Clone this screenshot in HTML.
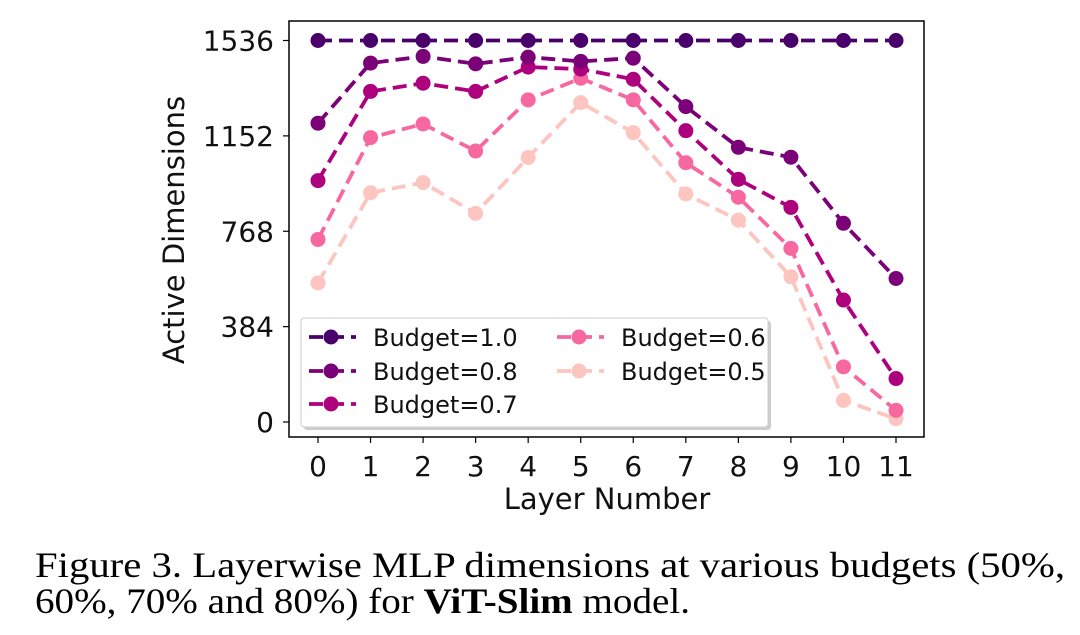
<!DOCTYPE html>
<html><head><meta charset="utf-8"><style>
html,body{margin:0;padding:0;background:#fff;}
svg{display:block;}
.cap{font-family:"Liberation Serif","Times New Roman",Times,serif;}
</style></head><body>
<svg id="chart" width="1080" height="635" viewBox="0 0 1080 635" xmlns="http://www.w3.org/2000/svg">
<rect x="0" y="0" width="1080" height="635" fill="#fff"/>
<g id="plot"></g>
<rect x="289" y="21" width="635" height="416" fill="none" stroke="#000" stroke-width="1.5"/>
<text x="184" y="230" transform="rotate(-90 184 230)" text-anchor="middle" font-family="'DejaVu Sans', sans-serif" font-size="29" fill="#111">Active Dimensions</text>
<text x="607" y="509" text-anchor="middle" font-family="'DejaVu Sans', sans-serif" font-size="29" fill="#111">Layer Number</text>
<text class="cap" x="35" y="577" font-size="36" fill="#000" textLength="1030" lengthAdjust="spacingAndGlyphs">Figure 3.  Layerwise MLP dimensions at various budgets (50%,</text>
<text class="cap" x="35" y="613" font-size="36" fill="#000" textLength="655" lengthAdjust="spacingAndGlyphs">60%, 70% and 80%) for <tspan font-weight="bold">ViT-Slim</tspan> model.</text>
</svg>
<script>
const layers=[0,1,2,3,4,5,6,7,8,9,10,11];
const yTicks=[0,384,768,1152,1536];
const seriesNames=["Budget=1.0","Budget=0.8","Budget=0.7","Budget=0.6","Budget=0.5"];
const seriesColors=["#49006a","#7a0177","#ae017e","#f768a1","#fcc5c0"];
const budget10=[1536,1536,1536,1536,1536,1536,1536,1536,1536,1536,1536,1536];
const budget08=[1203,1445,1472,1442,1469,1452,1465,1270,1106,1066,800,578];
const budget07=[972,1331,1364,1331,1429,1421,1380,1173,977,864,491,175];
const budget06=[735,1145,1200,1091,1297,1384,1297,1044,905,699,222,47];
const budget05=[560,923,964,840,1065,1286,1165,918,813,585,87,13];
const allSeries=[budget10,budget08,budget07,budget06,budget05];

const NS="http://www.w3.org/2000/svg";
const xs=v=>318+v*(896-318)/11;
const ys=v=>422-v*(422-40.5)/1536;
const g=document.getElementById('plot');
function mk(t,a){const e=document.createElementNS(NS,t);for(const k in a)e.setAttribute(k,a[k]);return e;}
yTicks.forEach(t=>{
  const l=mk('line',{x1:283,x2:289,y1:ys(t),y2:ys(t),stroke:'#000','stroke-width':1.2});
  
  
  g.appendChild(l);
  const tx=mk('text',{x:274,y:ys(t)+10,'text-anchor':'end','font-family':"'DejaVu Sans', sans-serif",'font-size':28,fill:'#111'});
  tx.textContent=t;
  
  
  g.appendChild(tx);
});
layers.forEach(t=>{
  const l=mk('line',{x1:xs(t),x2:xs(t),y1:437,y2:443,stroke:'#000','stroke-width':1.2});
  
  
  g.appendChild(l);
  const tx=mk('text',{x:xs(t),y:476,'text-anchor':'middle','font-family':"'DejaVu Sans', sans-serif",'font-size':28,fill:'#111'});
  tx.textContent=t;
  
  
  g.appendChild(tx);
});
for(let s=allSeries.length-1;s>=0;s--){
  const d=allSeries[s];const c=seriesColors[s];
  const sg=mk('g',{});
  
  
  const p=mk('polyline',{points:d.map((v,i)=>xs(layers[i])+','+ys(v)).join(' '),fill:'none',stroke:c,'stroke-width':3.8,'stroke-dasharray':'14,7'});
  
  
  sg.appendChild(p);
  d.forEach((v,i)=>{
    const m=mk('circle',{cx:xs(layers[i]),cy:ys(v),r:7.5,fill:c});
    
    
    sg.appendChild(m);
  });
  g.appendChild(sg);
}
const lg=mk('g',{});


lg.appendChild(mk('rect',{x:304,y:321,width:467,height:109,rx:3,fill:'#ccc'}));
lg.appendChild(mk('rect',{x:301,y:318,width:467,height:109,rx:3,fill:'#fff',stroke:'#ccc','stroke-width':1}));
const pos=[[309,337],[309,371],[309,404],[557,337],[557,371]];
[0,1,2,3,4].forEach((s,k)=>{
  const [lx,ly]=pos[k];
  const e=mk('g',{});
  
  
  e.appendChild(mk('line',{x1:lx,x2:lx+47,y1:ly,y2:ly,stroke:seriesColors[s],'stroke-width':3.8,'stroke-dasharray':'14,7'}));
  e.appendChild(mk('circle',{cx:lx+22,cy:ly,r:7.5,fill:seriesColors[s]}));
  const t=mk('text',{x:lx+64,y:ly+9,'font-family':"'DejaVu Sans', sans-serif",'font-size':24,fill:'#111'});
  t.textContent=seriesNames[s];
  e.appendChild(t);
  lg.appendChild(e);
});
g.appendChild(lg);
</script>
</body></html>
